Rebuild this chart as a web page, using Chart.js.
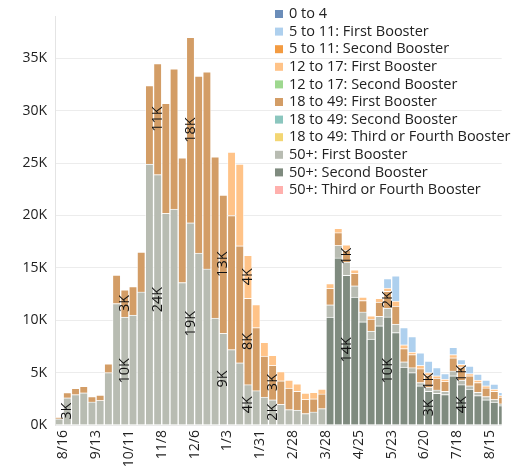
<!DOCTYPE html>
<html>
<head>
<meta charset="utf-8">
<script src="https://cdn.jsdelivr.net/npm/chart.js@4.4.0/dist/chart.umd.min.js"></script>
<style>
  html, body { margin: 0; padding: 0; background: #fff; }
  #wrap { width: 512px; height: 468px; overflow: hidden; }
</style>
</head>
<body>
<div id="wrap"><canvas id="boosters_chart" width="512" height="468"></canvas></div>
<script>
var weeks = ['8/9','8/16','8/23','8/30','9/6','9/13','9/20','9/27','10/4','10/11','10/18','10/25','11/1','11/8','11/15','11/22','11/29','12/6','12/13','12/20','12/27',
  '1/3','1/10','1/17','1/24','1/31','2/7','2/14','2/21','2/28','3/7','3/14','3/21','3/28','4/4','4/11','4/18','4/25','5/2','5/9','5/16','5/23','5/30',
  '6/6','6/13','6/20','6/27','7/4','7/11','7/18','7/25','8/1','8/8','8/15','8/22']
var week_ticks = ['8/16','9/13','10/11','11/8','12/6','1/3','1/31','2/28','3/28','4/25','5/23','6/20','7/18','8/15']
var y_ticks = [0, 5000, 10000, 15000, 20000, 25000, 30000, 35000]

var age_0_4 = [0,0,0,0,0,0,0,0,0,0,0,0,0,0,0,0,0,0,0,0,0,0,0,0,0,0,0,0,0,0,0,0,0,0,0,0,0,0,0,0,0,0,0,0,0,0,0,0,0,0,0,0,0,0,0]
var age_5_11_first = [0,0,0,0,0,0,0,0,0,0,0,0,0,0,0,0,0,0,0,0,0,0,0,0,0,0,0,0,0,0,0,0,0,0,0,0,0,0,0,0,
  920,2410,1630,1470,1190,1100,780,530,690,470,720,560,540,470,320]
var age_5_11_second = [0,0,0,0,0,0,0,0,0,0,0,0,0,0,0,0,0,0,0,0,0,0,0,0,0,0,0,0,0,0,0,0,0,0,0,0,0,0,0,0,0,0,0,0,0,0,0,0,0,0,0,0,0,0,0]
var age_12_17_first = [0,0,0,0,0,0,0,0,0,0,0,0,0,0,0,0,0,0,0,0,0,
  6050,7800,4100,2200,1330,970,880,760,720,610,620,470,460,400,500,330,320,310,370,300,470,370,250,310,240,220,220,310,250,220,230,210,220,150]
var age_12_17_second = [0,0,0,0,0,0,0,0,0,0,0,0,0,0,0,0,0,0,0,0,0,0,0,0,0,0,0,0,0,0,0,0,0,0,0,0,0,0,0,0,0,0,0,0,0,0,0,0,0,0,0,0,0,0,0]
var age_18_49_first = [100,500,600,620,520,500,850,2700,2600,2700,3800,7500,10600,10500,13400,11900,17700,16900,18800,15400,13200,
  12800,11160,8250,6020,3910,3280,2250,2060,1800,1340,1250,1400,1570,1220,1160,1180,1090,1130,1350,1600,1720,1260,1250,1320,1170,1120,940,1250,1240,940,930,820,780,630]
var age_18_49_second = [0,0,0,0,0,0,0,0,0,0,0,0,0,0,0,0,0,0,0,0,0,0,0,0,0,0,0,0,0,0,0,0,0,0,0,0,0,0,0,0,0,0,0,0,0,0,0,0,0,0,0,0,0,0,0]
var age_18_49_third = [0,0,0,0,0,0,0,0,0,0,0,0,0,0,0,0,0,0,0,0,0,0,0,0,0,0,0,0,0,0,0,0,0,0,0,0,0,0,0,0,0,0,0,0,0,0,0,0,0,0,0,0,0,0,0]
var age_50_first = [600,2600,2900,3070,2200,2350,5000,11600,10300,10500,12700,24900,23900,20200,20600,13600,19300,16400,14900,10200,8750,
  7200,5940,3850,3280,2660,2410,1970,1470,1420,1100,1250,1570,1170,1190,1250,1090,940,780,910,840,810,500,470,310,370,320,310,470,440,310,320,310,250,180]
var age_50_second = [0,0,0,0,0,0,0,0,0,0,0,0,0,0,0,0,0,0,0,0,0,0,0,0,0,0,0,0,0,0,0,0,0,
  10300,15950,14290,12200,9850,8190,9470,10320,8820,5530,5000,3750,3220,3030,2910,4690,3850,3440,2810,2410,2190,1850]
var age_50_third = [0,0,0,0,0,0,0,0,0,0,0,0,0,0,0,0,0,0,0,0,0,0,0,0,0,0,0,0,0,0,0,0,0,0,0,0,0,0,0,0,0,0,0,0,0,0,0,0,0,0,0,0,0,0,0]

var series_names = ['0 to 4', '5 to 11: First Booster', '5 to 11: Second Booster', '12 to 17: First Booster', '12 to 17: Second Booster',
  '18 to 49: First Booster', '18 to 49: Second Booster', '18 to 49: Third or Fourth Booster', '50+: First Booster', '50+: Second Booster',
  '50+: Third or Fourth Booster']
var series_values = [age_0_4, age_5_11_first, age_5_11_second, age_12_17_first, age_12_17_second, age_18_49_first,
  age_18_49_second, age_18_49_third, age_50_first, age_50_second, age_50_third]
var series_colors = ['#6b8db9', '#aed0ee', '#f39b41', '#ffc388', '#9ed88f', '#d39d66', '#8bc6be', '#f3d673', '#b8bcb2', '#7f8b7f', '#ffb0ad']

// segments that carry a value label inside the bar
var label_weeks = ['8/16','10/4','10/4','11/1','11/1','11/29','11/29','12/27','12/27','1/17','1/17','1/17','2/7','2/7','4/11','4/11','5/16','5/16','6/20','6/20','7/18','7/18']
var label_series = ['50+: First Booster','50+: First Booster','18 to 49: First Booster','50+: First Booster','18 to 49: First Booster',
  '18 to 49: First Booster','50+: First Booster','18 to 49: First Booster','50+: First Booster','12 to 17: First Booster',
  '18 to 49: First Booster','50+: First Booster','18 to 49: First Booster','50+: First Booster','18 to 49: First Booster',
  '50+: Second Booster','18 to 49: First Booster','50+: Second Booster','18 to 49: First Booster','50+: Second Booster',
  '18 to 49: First Booster','50+: Second Booster']

var FONT = '"Open Sans"'

// tableau stacks the last legend entry at the bottom
var datasets = []
for (var n = series_names.length - 1; n >= 0; n--) {
    datasets.push({
        label: series_names[n],
        data: series_values[n],
        backgroundColor: (function (cor) {
            return function (ctx) { return ctx.raw ? cor : 'rgba(0,0,0,0)' }
        })(series_colors[n]),
        borderColor: 'rgba(255,255,255,0.5)',
        borderWidth: function (ctx) { return ctx.raw ? 1 : 0 },
        barPercentage: 1,
        categoryPercentage: 1
    })
}

var bar_labels_plugin = {
    id: 'bar_labels',
    afterDatasetsDraw: function (chart) {
        var ctx = chart.ctx
        ctx.save()
        ctx.font = '14.5px ' + FONT
        ctx.fillStyle = '#111'
        ctx.textAlign = 'center'
        ctx.textBaseline = 'middle'
        for (var k = 0; k < label_weeks.length; k++) {
            var i = weeks.indexOf(label_weeks[k])
            var s = series_names.indexOf(label_series[k])
            var bar = chart.getDatasetMeta(series_names.length - 1 - s).data[i]
            var value = series_values[s][i]
            ctx.save()
            ctx.translate(bar.x, (bar.y + bar.base) / 2)
            ctx.rotate(-Math.PI / 2)
            ctx.fillText(Math.round(value / 1000) + 'K', 0, 0)
            ctx.restore()
        }
        ctx.restore()
    }
}

var legend_plugin = {
    id: 'legend_box',
    afterDraw: function (chart) {
        var ctx = chart.ctx
        ctx.save()
        ctx.font = '14.5px ' + FONT
        ctx.textBaseline = 'middle'
        ctx.textAlign = 'left'
        for (var n = 0; n < series_names.length; n++) {
            var y = 14 + n * 17.6
            ctx.fillStyle = series_colors[n]
            ctx.fillRect(275, y - 4, 8, 8)
            ctx.fillStyle = '#222'
            ctx.fillText(series_names[n], 289, y)
        }
        ctx.restore()
    }
}

Chart.defaults.font.family = FONT
Chart.defaults.font.size = 14
Chart.defaults.color = '#222'

var chart = new Chart(document.getElementById('boosters_chart').getContext('2d'), {
    type: 'bar',
    data: {
        labels: weeks.map(function (w, i) { return i }),
        datasets: datasets
    },
    options: {
        responsive: false,
        animation: false,
        layout: { padding: { top: 9, left: 0, right: 0, bottom: 0 } },
        plugins: {
            legend: { display: false },
            tooltip: { enabled: false }
        },
        scales: {
            x: {
                type: 'linear',
                stacked: true,
                offset: false,
                min: -0.5,
                max: 53.9,
                grid: { display: false, offset: false, drawTicks: false },
                border: { display: false },
                afterBuildTicks: function (scale) {
                    scale.ticks = week_ticks.map(function (w) { return { value: weeks.indexOf(w) - 0.5 } })
                },
                afterFit: function (scale) { scale.height = 43 },
                ticks: {
                    autoSkip: false,
                    minRotation: 90,
                    maxRotation: 90,
                    padding: 5,
                    callback: function (value) { return weeks[Math.round(value + 0.5)] }
                }
            },
            y: {
                stacked: true,
                min: 0,
                max: 39000,
                grid: { color: '#ececec', drawTicks: false },
                border: { display: true, color: '#e4e4e4' },
                afterBuildTicks: function (scale) {
                    scale.ticks = y_ticks.map(function (v) { return { value: v } })
                },
                afterFit: function (scale) { scale.width = 55 },
                ticks: {
                    padding: 8,
                    callback: function (value) { return (value / 1000) + 'K' }
                }
            }
        }
    },
    plugins: [bar_labels_plugin, legend_plugin]
})
</script>
</body>
</html>
